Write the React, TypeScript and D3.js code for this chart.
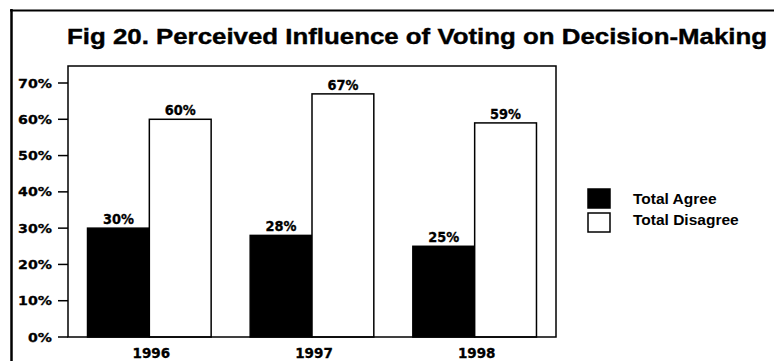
import React from "react";
import * as d3 from "d3";

// Survey results by year
const years = ["1996", "1997", "1998"];
const seriesNames = ["Total Agree", "Total Disagree"];
const totalAgree = [30, 28, 25];
const totalDisagree = [60, 67, 59];
const yTicks = [0, 10, 20, 30, 40, 50, 60, 70];
const title = "Fig 20. Perceived Influence of Voting on Decision-Making";

const W = 774;
const H = 361;
const plot = { left: 68, right: 556, top: 66, bottom: 337 };
const numFont = "'DejaVu Sans', sans-serif";
const textFont = "'Liberation Sans', Arial, sans-serif";

export default function App() {
  const x = d3
    .scaleBand<string>()
    .domain(years)
    .range([plot.left, plot.right])
    .paddingInner(0.24)
    .paddingOuter(0.12);
  const xInner = d3
    .scaleBand<string>()
    .domain(seriesNames)
    .range([0, x.bandwidth()]);
  const y = d3.scaleLinear().domain([0, 70]).range([plot.bottom, 83]);

  const series = [
    { name: seriesNames[0], values: totalAgree, fill: "#000" },
    { name: seriesNames[1], values: totalDisagree, fill: "#fff" },
  ];

  return (
    <svg
      width={W}
      height={H}
      viewBox={`0 0 ${W} ${H}`}
      style={{ position: "fixed", left: 0, top: 0, background: "#fff" }}
    >
      {/* outer frame */}
      <line x1={11.5} y1={9} x2={11.5} y2={H} stroke="#000" strokeWidth={2.5} />
      <line x1={10} y1={10.5} x2={W} y2={10.5} stroke="#000" strokeWidth={2} />

      <text
        x={67}
        y={44}
        fontFamily={textFont}
        fontWeight="bold"
        fontSize={22.5}
        stroke="#000"
        strokeWidth={0.4}
        textLength={700}
        lengthAdjust="spacingAndGlyphs"
      >
        {title}
      </text>

      {/* bars */}
      {series.map((s) =>
        years.map((yr, i) => {
          const bx = (x(yr) ?? 0) + (xInner(s.name) ?? 0);
          const by = y(s.values[i]);
          return (
            <g key={s.name + yr}>
              <rect
                x={bx}
                y={by}
                width={xInner.bandwidth()}
                height={plot.bottom - by}
                fill={s.fill}
                stroke="#000"
                strokeWidth={1.5}
              />
              <text
                x={bx + xInner.bandwidth() / 2}
                y={by - 4}
                textAnchor="middle"
                fontFamily={numFont}
                fontWeight="bold"
                fontSize={13.5}
                stroke="#000"
                strokeWidth={0.3}
                textLength={31}
                lengthAdjust="spacingAndGlyphs"
              >
                {s.values[i]}%
              </text>
            </g>
          );
        })
      )}

      {/* plot frame */}
      <rect
        x={plot.left}
        y={plot.top}
        width={plot.right - plot.left}
        height={plot.bottom - plot.top}
        fill="none"
        stroke="#000"
        strokeWidth={1.5}
      />

      {/* y axis */}
      {yTicks.map((t) => (
        <g key={t}>
          <line x1={58} x2={plot.left} y1={y(t)} y2={y(t)} stroke="#000" strokeWidth={1.5} />
          <text
            x={52}
            y={y(t) + 4.5}
            textAnchor="end"
            fontFamily={numFont}
            fontWeight="bold"
            fontSize={12.5}
            stroke="#000"
            strokeWidth={0.3}
            textLength={t === 0 ? 24 : 34}
            lengthAdjust="spacingAndGlyphs"
          >
            {t}%
          </text>
        </g>
      ))}

      {/* x axis labels */}
      {years.map((yr) => (
        <text
          key={yr}
          x={(x(yr) ?? 0) + x.bandwidth() / 2 + 2}
          y={358}
          textAnchor="middle"
          fontFamily={numFont}
          fontWeight="bold"
          fontSize={13.5}
          stroke="#000"
          strokeWidth={0.3}
        >
          {yr}
        </text>
      ))}

      {/* legend */}
      {series.map((s, i) => (
        <g key={s.name}>
          <rect
            x={588}
            y={189 + i * 24}
            width={22}
            height={19}
            fill={s.fill}
            stroke="#000"
            strokeWidth={1.5}
          />
          <text
            x={633}
            y={204 + i * 21}
            fontFamily={textFont}
            fontWeight="bold"
            fontSize={15.5}
          >
            {s.name}
          </text>
        </g>
      ))}
    </svg>
  );
}
